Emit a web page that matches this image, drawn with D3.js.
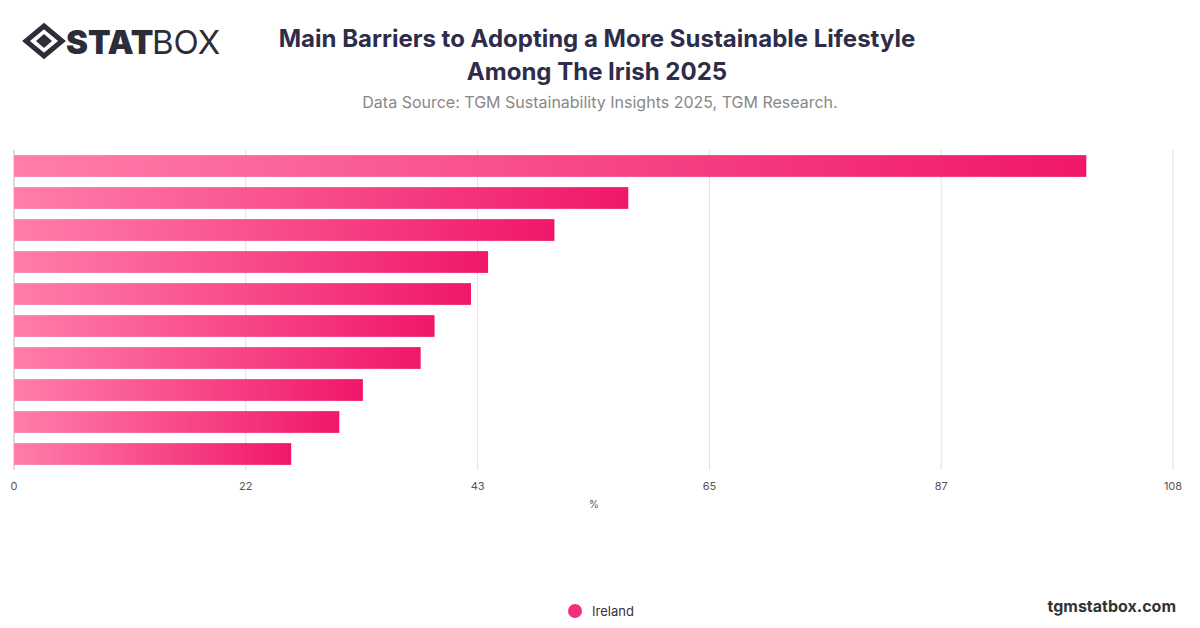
<!DOCTYPE html>
<html><head><meta charset="utf-8">
<script src="https://cdn.jsdelivr.net/npm/d3@7"></script>
<style>body{margin:0;background:#fff;font-family:Inter,"Open Sans",sans-serif}</style>
</head><body>
<svg id="c" width="1200" height="628"></svg>
<script>
const categories = ["Barrier 1","Barrier 2","Barrier 3","Barrier 4","Barrier 5","Barrier 6","Barrier 7","Barrier 8","Barrier 9","Barrier 10"];
const values = [100.2, 57.4, 50.5, 44.3, 42.7, 39.3, 38.0, 32.6, 30.4, 25.9];
const tickValues = [0, 21.66, 43.32, 64.98, 86.64, 108.3];
const tickLabels = ["0","22","43","65","87","108"];

const svg = d3.select("#c");
const defs = svg.append("defs");
const g = defs.append("linearGradient").attr("id","bg").attr("x1","0").attr("x2","1");
g.append("stop").attr("offset","0").attr("stop-color","#ff7eab");
g.append("stop").attr("offset","1").attr("stop-color","#f0176a");

const x = d3.scaleLinear().domain([0,108.3]).range([14,1173]);
const y = d3.scaleBand().domain(categories).range([150,470]).paddingInner(0.32).paddingOuter(0.16);

svg.append("g").selectAll("line").data(tickValues).join("line")
  .attr("x1",d=>x(d)).attr("x2",d=>x(d)).attr("y1",150).attr("y2",470)
  .attr("stroke","#e0e0e0");
svg.append("line").attr("x1",14).attr("x2",14).attr("y1",150).attr("y2",470).attr("stroke","#ccc");

svg.append("g").selectAll("rect").data(values).join("rect")
  .attr("x",x(0)).attr("y",(d,i)=>y(categories[i])).attr("width",d=>x(d)-x(0))
  .attr("height",y.bandwidth()).attr("fill","url(#bg)");

svg.append("g").selectAll("text").data(tickValues).join("text")
  .attr("x",d=>x(d)).attr("y",490).attr("text-anchor","middle")
  .attr("font-size",11).attr("fill","#555").text((d,i)=>tickLabels[i]);
svg.append("text").attr("x",594).attr("y",508).attr("text-anchor","middle").attr("font-size",10).attr("fill","#555").text("%");

svg.append("text").attr("x",597).attr("y",47).attr("text-anchor","middle").attr("font-size",24).attr("font-weight",700).attr("fill","#2d2d4a").text("Main Barriers to Adopting a More Sustainable Lifestyle");
svg.append("text").attr("x",597).attr("y",80).attr("text-anchor","middle").attr("font-size",24).attr("font-weight",700).attr("fill","#2d2d4a").text("Among The Irish 2025");
svg.append("text").attr("x",600).attr("y",108).attr("text-anchor","middle").attr("font-size",16).attr("fill","#888").text("Data Source: TGM Sustainability Insights 2025, TGM Research.");

// logo
const lg = svg.append("g");
lg.append("path").attr("d","M44,26 L62,41 L44,56 L26,41 Z").attr("fill","none").attr("stroke","#2d2d3a").attr("stroke-width",5);
lg.append("path").attr("d","M44,34 L52,41 L44,48 L36,41 Z").attr("fill","#2d2d3a");
lg.append("text").attr("x",66).attr("y",54).attr("font-size",33).attr("font-weight",900).attr("fill","#2d2d3a").text("STAT");
lg.append("text").attr("x",152).attr("y",54).attr("font-size",33).attr("font-weight",400).attr("fill","#2d2d3a").text("BOX");

svg.append("circle").attr("cx",575).attr("cy",611).attr("r",7).attr("fill","#f0307a");
svg.append("text").attr("x",592).attr("y",616).attr("font-size",13).attr("fill","#333").text("Ireland");
svg.append("text").attr("x",1176).attr("y",612).attr("text-anchor","end").attr("font-size",16).attr("font-weight",700).attr("fill","#333").text("tgmstatbox.com");
</script>
</body></html>
